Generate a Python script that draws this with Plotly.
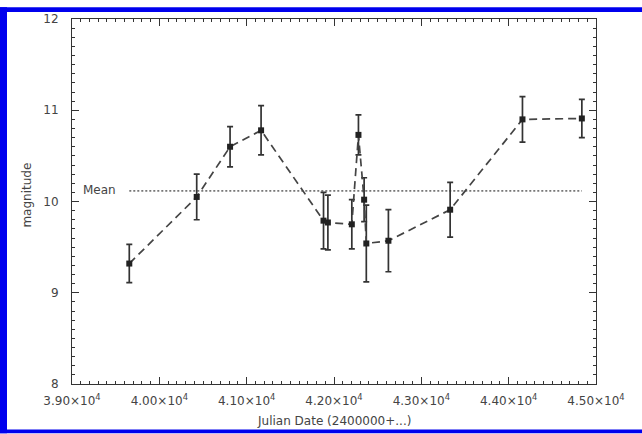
import numpy as np
import plotly.graph_objects as go

# ---- data ----
julian_date = [39656, 40428, 40810, 41165, 41880, 41930, 42204, 42280,
               42345, 42370, 42623, 43330, 44158, 44838]
magnitude = [9.32, 10.05, 10.60, 10.78, 9.79, 9.77, 9.75, 10.73,
             10.02, 9.54, 9.57, 9.91, 10.90, 10.91]
mag_err = [0.21, 0.25, 0.22, 0.27, 0.31, 0.30, 0.27, 0.22,
           0.24, 0.42, 0.34, 0.30, 0.25, 0.21]
x_tick_vals = [39000, 40000, 41000, 42000, 43000, 44000, 45000]
x_tick_text = ["3.90×10<sup>4</sup>", "4.00×10<sup>4</sup>", "4.10×10<sup>4</sup>",
               "4.20×10<sup>4</sup>", "4.30×10<sup>4</sup>", "4.40×10<sup>4</sup>",
               "4.50×10<sup>4</sup>"]
y_tick_vals = [8, 9, 10, 11, 12]
mean_mag = float(np.mean(magnitude))

# ---- layout geometry (pixels) ----
W, H = 642, 434
L, R, T, B = 72, 46, 14, 50
pw, ph = W - L - R, H - T - B


def px(x):
    return (x - L) / pw


def py(y):
    return (H - B - y) / ph


FONT = dict(family="DejaVu Sans", size=12, color="#444")
AX = "#333"

fig = go.Figure()

# mean line spanning first to last observation
fig.add_trace(go.Scatter(
    x=[julian_date[0], julian_date[-1]], y=[mean_mag, mean_mag],
    mode="lines", line=dict(color="#777", width=1.8, dash="2px,2px"),
    hoverinfo="skip", showlegend=False))

fig.add_trace(go.Scatter(
    x=julian_date, y=magnitude, mode="lines+markers",
    line=dict(color="#444", width=1.7, dash="8px,5px"),
    marker=dict(symbol="square", size=6, color="#222"),
    error_y=dict(type="data", array=mag_err, visible=True,
                 color="#333", thickness=1.7, width=3),
    showlegend=False))

axis_common = dict(showgrid=False, zeroline=False, showline=True,
                   linecolor=AX, linewidth=1, mirror="ticks",
                   ticks="inside", tickcolor=AX, ticklen=7, tickwidth=1,
                   tickfont=FONT)

fig.update_xaxes(range=[39000, 45000], tickvals=x_tick_vals, ticktext=x_tick_text,
                 ticklabelstandoff=6,
                 minor=dict(dtick=100, ticks="inside", ticklen=3,
                            tickcolor=AX, showgrid=False),
                 **axis_common)
fig.update_yaxes(range=[8, 12], tickvals=y_tick_vals,
                 ticklabelstandoff=10,
                 minor=dict(dtick=0.1, ticks="inside", ticklen=3,
                            tickcolor=AX, showgrid=False),
                 **axis_common)

annotations = [
    dict(text="Julian Date (2400000+...)", x=0.5, y=py(421), xref="paper", yref="paper",
         xanchor="center", yanchor="middle", showarrow=False, font=FONT),
    dict(text="magnitude", x=px(27), y=py(193), xref="paper", yref="paper",
         xanchor="center", yanchor="middle", textangle=-90, showarrow=False, font=FONT),
    dict(text="Mean", x=px(81), y=py(187), xref="paper", yref="paper",
         xanchor="left", yanchor="middle", showarrow=False, font=FONT),
]

BLUE = "#0000ee"
shapes = []
for (x0, y0, x1, y1) in [(0, 2, W, 7), (0, 2, 7, H), (0, 430, W, H)]:
    shapes.append(dict(type="rect", xref="paper", yref="paper",
                       x0=px(x0), x1=px(x1), y0=py(y1), y1=py(y0),
                       fillcolor=BLUE, line=dict(width=0), layer="above"))

fig.update_layout(width=W, height=H, margin=dict(l=L, r=R, t=T, b=B),
                  paper_bgcolor="white", plot_bgcolor="white",
                  annotations=annotations, shapes=shapes, font=FONT)

fig.write_html("out.html")
